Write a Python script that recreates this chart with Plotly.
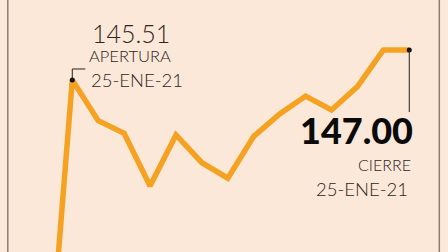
import plotly.graph_objects as go

# data
idx = list(range(15))
values = [129.41, 145.51, 143.49, 142.86, 140.24, 142.78, 141.40, 140.63,
          142.71, 143.82, 144.71, 144.02, 145.18, 147.00, 147.00]
open_val, close_val = 145.51, 147.00
open_i, close_i = 1, 14
open_label = "145.51"
close_label = "147.00"
date_label = "25-ENE-21"

BG = "#FCE8D9"
ORANGE = "#F5A222"
TXT = "#2E2622"
W, H = 448, 252

fig = go.Figure()
fig.add_trace(go.Scatter(x=idx, y=values, mode="lines",
                         line=dict(color=ORANGE, width=5.5), hoverinfo="skip"))
fig.add_trace(go.Scatter(x=[open_i, close_i], y=[open_val, close_val], mode="markers",
                         marker=dict(color="#111111", size=5), hoverinfo="skip"))

def px(x): return x / W
def py(y): return 1 - y / H

ann = []
def txt(t, x, y, size, xanchor="left", weight=300, color=TXT, family="Lato"):
    ann.append(dict(text=t, x=px(x), y=py(y), xref="paper", yref="paper",
                    xanchor=xanchor, yanchor="middle", showarrow=False,
                    font=dict(family=family, size=size, color=color, weight=weight)))

txt("PESOS POR DÓLAR", 312, -9, 17, xanchor="center", weight=400, color="#FFF6F0")
txt(open_label, 90, 33, 25)
txt("APERTURA", 87, 56, 16.5)
txt(date_label, 89, 80, 18.5)
txt(close_label, 415, 130, 36, xanchor="right", weight=900, color="#0A0A0A",
    family="Lato")
txt("CIERRE", 413, 164, 16, xanchor="right")
txt(date_label, 410, 189, 18.5, xanchor="right")

shapes = [
    dict(type="line", xref="paper", yref="paper", x0=px(7.8), x1=px(7.8), y0=0, y1=1,
         line=dict(color="#8C7B72", width=1.5)),
    dict(type="line", xref="paper", yref="paper", x0=px(439.3), x1=px(439.3), y0=0, y1=1,
         line=dict(color="#8C7B72", width=1.5)),
    dict(type="path", xref="x", yref="y", xsizemode="pixel", ysizemode="pixel",
         xanchor=open_i, yanchor=open_val, path="M0,0 L0,11 L13,11",
         line=dict(color="#222222", width=1)),
    dict(type="line", xref="x", yref="y", ysizemode="pixel", yanchor=close_val,
         x0=close_i, x1=close_i, y0=0, y1=-62, line=dict(color="#222222", width=1)),
]

fig.update_layout(
    width=W, height=H, margin=dict(l=0, r=0, t=0, b=0),
    paper_bgcolor=BG, plot_bgcolor=BG, showlegend=False,
    xaxis=dict(range=[-1.789, 15.494], visible=False, fixedrange=True),
    yaxis=dict(range=[136.965, 149.484], visible=False, fixedrange=True),
    annotations=ann, shapes=shapes,
)
fig.write_html("out.html", config={"displayModeBar": False})
